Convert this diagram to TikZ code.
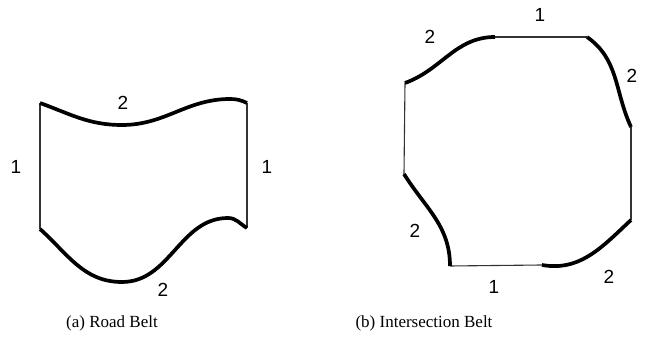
\documentclass[tikz,border=0pt]{standalone}
\usepackage{fontspec}
\setmainfont{Liberation Serif}
\newfontfamily\numfont{Liberation Sans}
\tikzset{
  belt/.style={line width=3.7pt,line cap=butt},
  side/.style={line width=1.1pt,draw=black!80},
  lbl/.style={font=\numfont\fontsize{19}{19}\selectfont,inner sep=0pt},
  subcap/.style={font=\fontsize{17}{17}\selectfont,inner sep=0pt}
}

\begin{document}
\begin{tikzpicture}[x=1pt,y=1pt]
  \useasboundingbox (0,0) rectangle (654,342);

  % (a) road belt
  \coordinate (rtl) at (40,239);
  \coordinate (rtr) at (247,239);
  \coordinate (rbr) at (247,114);
  \coordinate (rbl) at (40,113);
  \draw[side] (rtl) -- (rbl);
  \draw[side] (rtr) -- (rbr);
  \draw[belt] (rtl) to[out=-20,in=180] (122,217) to[out=0,in=180] (230,243) to[out=0,in=155] (rtr);
  \draw[belt] (rbl) to[out=-42,in=180] (122,60) to[out=0,in=180] (228,124) to[out=0,in=150] (rbr);
  \node[lbl] (rtop) at (123,239) {2};
  \node[lbl] (rleft) at (16,175) {1};
  \node[lbl] (rright) at (267,175) {1};
  \node[lbl] (rbot) at (163,52) {2};
  \node[subcap] (capa) at (112,19) {(a)~Road Belt};

  % (b) intersection belt
  \coordinate (i1) at (405,259);
  \coordinate (i2) at (495,305);
  \coordinate (i3) at (587,305);
  \coordinate (i4) at (631,215);
  \coordinate (i5) at (631,122);
  \coordinate (i6) at (542,77);
  \coordinate (i7) at (450,76);
  \coordinate (i8) at (404,168);
  \draw[side] (i2) -- (i3);
  \draw[side] (i4) -- (i5);
  \draw[side] (i6) -- (i7);
  \draw[side] (i8) -- (i1);
  \draw[belt] (i1) to[out=20,in=180] (i2);
  \draw[belt] (i3) to[out=-35,in=115] (i4);
  \draw[belt] (i5) to[out=-137,in=-10] (i6);
  \draw[belt] (i7) to[out=90,in=-58] (i8);
  \node[lbl] (itl) at (430,305) {2};
  \node[lbl] (itop) at (540,327) {1};
  \node[lbl] (itr) at (632,266) {2};
  \node[lbl] (iright) at (659,170) {1};
  \node[lbl] (ibr) at (609,65) {2};
  \node[lbl] (ibot) at (494,55) {1};
  \node[lbl] (ibl) at (415,111) {2};
  \node[subcap] (capb) at (424,19) {(b)~Intersection Belt};
\end{tikzpicture}
\end{document}
